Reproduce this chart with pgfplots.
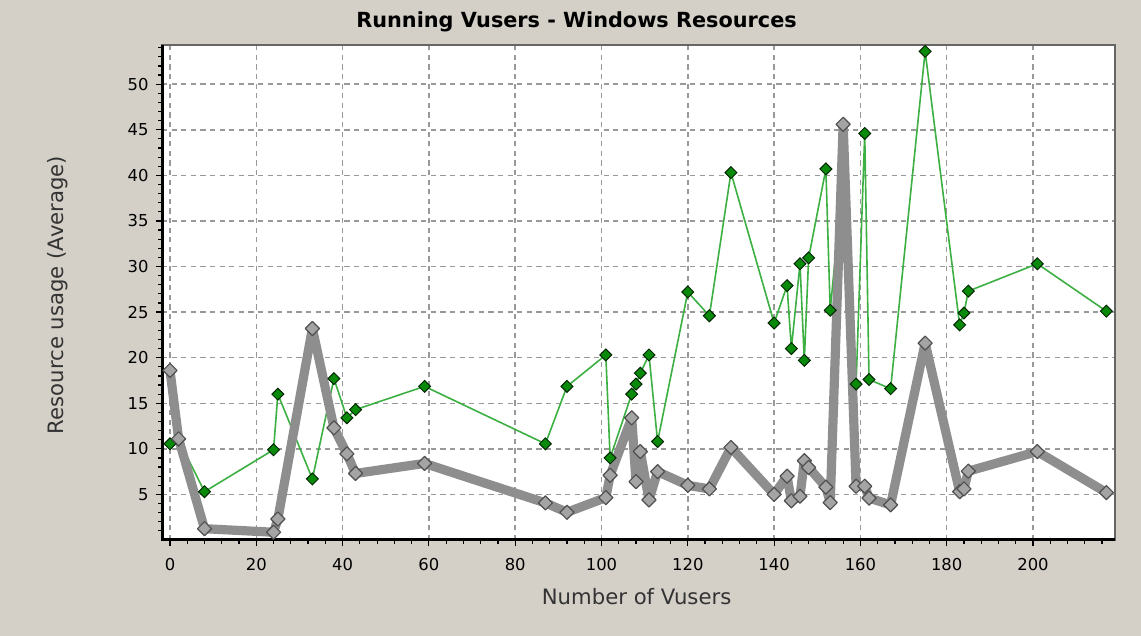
\documentclass[border=0pt]{standalone}
\usepackage{fontspec}
\setmainfont{DejaVu Sans}
\usepackage{pgfplots}
\pgfplotsset{compat=1.18}
\definecolor{bg}{HTML}{D4D0C8}
\definecolor{lgreen}{HTML}{3CB043}
\definecolor{dgreen}{HTML}{0A8A0A}
\definecolor{lgray}{HTML}{8E8E8E}
\definecolor{mgray}{HTML}{A4A4A4}
\definecolor{dgray}{HTML}{505050}
\definecolor{gridc}{HTML}{999999}
% green series: line through all samples
\pgfplotstableread{
x y
0 10.55
2 11.0
8 5.3
24 9.9
25 16.0
33 6.7
38 17.7
41 13.4
43 14.3
59 16.85
87 10.55
92 16.85
101 20.3
102 9.0
107 16.0
108 17.1
109 18.3
111 20.3
113 10.8
120 27.2
125 24.6
130 40.3
140 23.8
143 27.9
144 21.0
146 30.3
147 19.7
148 30.95
152 40.7
153 25.2
156 40
159 17.1
161 44.6
162 17.6
167 16.6
175 53.6
183 23.6
184 24.9
185 27.3
201 30.3
217 25.1
}\greendata
% green series: visible markers (the one at 156 is hidden behind the grey spike)
\pgfplotstableread{
x y
0 10.55
2 11.0
8 5.3
24 9.9
25 16.0
33 6.7
38 17.7
41 13.4
43 14.3
59 16.85
87 10.55
92 16.85
101 20.3
102 9.0
107 16.0
108 17.1
109 18.3
111 20.3
113 10.8
120 27.2
125 24.6
130 40.3
140 23.8
143 27.9
144 21.0
146 30.3
147 19.7
148 30.95
152 40.7
153 25.2
159 17.1
161 44.6
162 17.6
167 16.6
175 53.6
183 23.6
184 24.9
185 27.3
201 30.3
217 25.1
}\greenmarks
\pgfplotstableread{
x y
0 18.6
2 11.1
8 1.24
24 0.85
25 2.3
33 23.2
38 12.3
41 9.45
43 7.3
59 8.4
87 4.07
92 3.04
101 4.65
102 7.1
107 13.4
108 6.4
109 9.7
111 4.4
113 7.5
120 6.0
125 5.6
130 10.15
140 5.0
143 7.0
144 4.3
146 4.8
147 8.7
148 7.95
152 5.8
153 4.1
156 45.6
159 5.9
161 5.9
162 4.6
167 3.85
175 21.6
183 5.3
184 5.6
185 7.55
201 9.7
217 5.2
}\graydata
\begin{document}
\begin{tikzpicture}
\fill[bg] (0,0) rectangle (570.5pt,318pt);
\begin{axis}[
  at={(81pt,48pt)}, anchor=south west,
  scale only axis, width=476.5pt, height=247.5pt,
  xmin=-1.85, xmax=219, ymin=0, ymax=54.3,
  clip=false,
  axis background/.style={fill=white},
  xtick={0,20,...,200}, ytick={5,10,...,50},
  minor xtick={0,4,...,216}, minor ytick={1,2,...,54},
  tick pos=left, tick align=outside,
  major tick length=3.2pt, minor tick length=1.8pt,
  tick style={black, line width=0.6pt},
  grid=major,
  major grid style={gridc, line width=0.75pt, dash pattern=on 2.6pt off 2.2pt},
  axis line style={draw=black!60, line width=0.9pt},
  /pgf/number format/assume math mode=true,
  ticklabel style={font=\fontsize{8.2}{9}\selectfont, black},
  xticklabel style={yshift=-2.5pt},
  title={Running Vusers - Windows Resources},
  title style={at={(axis description cs:0.435,1.022)}, anchor=center, yshift=0pt,
    font=\bfseries\fontsize{10.4}{12}\selectfont},
  xlabel={Number of Vusers},
  xlabel style={at={(axis description cs:0.498,-0.115)}, anchor=center,
    font=\fontsize{10.6}{12}\selectfont, text=black!80},
  ylabel={Resource usage (Average)},
  ylabel style={at={(axis description cs:-0.109,0.495)}, anchor=center,
    font=\fontsize{10.6}{12}\selectfont, text=black!80},
]
\addplot[color=lgreen, line width=0.8pt, no marks, forget plot]
  table[x=x, y=y] {\greendata};
\addplot[only marks, mark=square*, mark size=2.1pt,
  mark options={rotate=45, fill=dgreen, draw=black!85!green, line width=0.5pt, solid}]
  table[x=x, y=y] {\greenmarks};
\addplot[color=lgray, line width=4.6pt, line join=round, mark=square*, mark size=2.5pt,
  mark options={rotate=45, fill=mgray, draw=dgray, line width=0.6pt, solid}]
  table[x=x, y=y] {\graydata};
\draw[black, line width=1.5pt] (rel axis cs:0,1) -- (rel axis cs:0,0) -- (rel axis cs:1,0);
\end{axis}
\pgfresetboundingbox
\useasboundingbox (0,0) rectangle (570.5pt,318pt);
\end{tikzpicture}
\end{document}
